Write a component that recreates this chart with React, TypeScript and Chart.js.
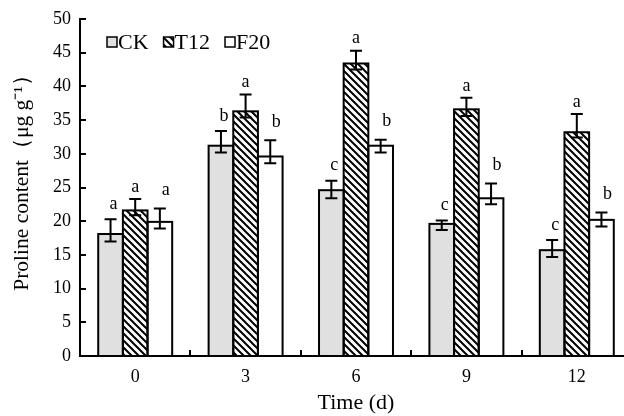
import React, { useEffect, useRef } from "react";
import { Chart, registerables } from "chart.js";

Chart.register(...registerables);

const categories = ["0", "3", "6", "9", "12"];
const seriesNames = ["CK", "T12", "F20"];
const ckValues = [18.1, 31.2, 24.6, 19.6, 15.7];
const t12Values = [21.6, 36.3, 43.4, 36.6, 33.2];
const f20Values = [19.9, 29.6, 31.2, 23.4, 20.2];
// error bar ends (upper cap, lower cap)
const ckErrHigh = [20.3, 33.4, 26.0, 20.1, 17.2];
const ckErrLow = [17.0, 30.2, 23.4, 18.7, 14.7];
const t12ErrHigh = [23.3, 38.8, 45.3, 38.3, 35.9];
const t12ErrLow = [20.9, 35.4, 42.5, 35.6, 32.4];
const f20ErrHigh = [21.9, 32.0, 32.1, 25.6, 21.3];
const f20ErrLow = [18.9, 28.6, 30.2, 22.5, 19.2];
const ckLetters = ["a", "b", "c", "c", "c"];
const t12Letters = ["a", "a", "a", "a", "a"];
const f20Letters = ["a", "b", "b", "b", "b"];
const yTicks = [0, 5, 10, 15, 20, 25, 30, 35, 40, 45, 50];
const xTitle = "Time (d)";
const yTitle = "Proline content（μg g⁻¹）";

const FONT = "'Liberation Serif', 'Times New Roman', serif";

function makeHatch(): CanvasPattern | string {
  const s = 7;
  const c = document.createElement("canvas");
  c.width = s;
  c.height = s;
  const g = c.getContext("2d");
  if (!g) return "#fff";
  g.fillStyle = "#fff";
  g.fillRect(0, 0, s, s);
  g.strokeStyle = "#000";
  g.lineWidth = 2;
  g.beginPath();
  g.moveTo(-1, -1);
  g.lineTo(s + 1, s + 1);
  g.moveTo(s - 1, -1);
  g.lineTo(s + 1, 1);
  g.moveTo(-1, s - 1);
  g.lineTo(1, s + 1);
  g.stroke();
  const p = g.createPattern(c, "repeat");
  return p || "#fff";
}

export default function App() {
  const ref = useRef<HTMLCanvasElement | null>(null);

  useEffect(() => {
    const canvas = ref.current;
    if (!canvas) return;
    const hatch = makeHatch();
    const fills = ["#e0e0e0", hatch, "#ffffff"];
    const errHigh = [ckErrHigh, t12ErrHigh, f20ErrHigh];
    const errLow = [ckErrLow, t12ErrLow, f20ErrLow];
    const letters = [ckLetters, t12Letters, f20Letters];
    const letterGap = [15, 12, 18];
    const letterDx = [3, 0, 6];

    const decor = {
      id: "decor",
      afterDatasetsDraw(chart: any) {
        const ctx = chart.ctx as CanvasRenderingContext2D;
        const y = chart.scales.y;
        const area = chart.chartArea;
        ctx.save();
        // bar outlines (shared 2px edges)
        ctx.strokeStyle = "#000";
        ctx.lineWidth = 2;
        chart.data.datasets.forEach((_ds: any, di: number) => {
          const meta = chart.getDatasetMeta(di);
          meta.data.forEach((bar: any) => {
            const p = bar.getProps(["x", "y", "base", "width"], true);
            const l = p.x - p.width / 2;
            ctx.strokeRect(l, p.y, p.width, p.base - p.y);
          });
        });
        // error bars and letters
        chart.data.datasets.forEach((_ds: any, di: number) => {
          const meta = chart.getDatasetMeta(di);
          meta.data.forEach((bar: any, i: number) => {
            const p = bar.getProps(["x"], true);
            const yh = y.getPixelForValue(errHigh[di][i]);
            const yl = y.getPixelForValue(errLow[di][i]);
            ctx.beginPath();
            ctx.moveTo(p.x, yh);
            ctx.lineTo(p.x, yl);
            ctx.moveTo(p.x - 6, yh);
            ctx.lineTo(p.x + 6, yh);
            ctx.moveTo(p.x - 6, yl);
            ctx.lineTo(p.x + 6, yl);
            ctx.stroke();
            ctx.fillStyle = "#000";
            ctx.font = `18px ${FONT}`;
            ctx.textAlign = "center";
            ctx.textBaseline = "middle";
            ctx.fillText(letters[di][i], p.x + letterDx[di], yh - letterGap[di]);
          });
        });
        // inward ticks
        ctx.lineWidth = 2;
        yTicks.forEach((v) => {
          const py = Math.round(y.getPixelForValue(v));
          ctx.beginPath();
          ctx.moveTo(area.left, py);
          ctx.lineTo(area.left + 6, py);
          ctx.stroke();
        });
        const n = categories.length;
        const cw = (area.right - area.left) / n;
        for (let i = 1; i <= n; i++) {
          const px = Math.round(area.left + cw * i);
          ctx.beginPath();
          ctx.moveTo(px, area.bottom);
          ctx.lineTo(px, area.bottom - 6);
          ctx.stroke();
        }
        // legend
        ctx.font = `22px ${FONT}`;
        ctx.textAlign = "left";
        ctx.textBaseline = "middle";
        let lx = area.left + 27;
        const ly = area.top + 23;
        seriesNames.forEach((name, k) => {
          ctx.fillStyle = fills[k] as any;
          ctx.fillRect(lx, ly - 5, 10, 10);
          ctx.lineWidth = 1.5;
          ctx.strokeRect(lx, ly - 5, 10, 10);
          ctx.fillStyle = "#000";
          ctx.fillText(name, lx + 11, ly + 1);
          lx += 11 + ctx.measureText(name).width + 15;
        });
        // axis titles
        ctx.fillStyle = "#000";
        ctx.textAlign = "center";
        ctx.textBaseline = "middle";
        ctx.font = `22px ${FONT}`;
        ctx.fillText(xTitle, (area.left + area.right) / 2, area.bottom + 47);
        ctx.save();
        ctx.translate(22, (area.top + area.bottom) / 2 - 10);
        ctx.rotate(-Math.PI / 2);
        ctx.font = `21.5px ${FONT}`;
        ctx.fillText(yTitle, 0, 0);
        ctx.restore();
        ctx.restore();
      },
    };

    const chart = new Chart(canvas, {
      type: "bar",
      data: {
        labels: categories,
        datasets: [
          { label: seriesNames[0], data: ckValues, backgroundColor: fills[0] as any, borderWidth: 0 },
          { label: seriesNames[1], data: t12Values, backgroundColor: fills[1] as any, borderWidth: 0 },
          { label: seriesNames[2], data: f20Values, backgroundColor: fills[2] as any, borderWidth: 0 },
        ],
      },
      options: {
        responsive: false,
        animation: false,
        devicePixelRatio: 1,
        layout: { padding: { top: 19, left: 0, right: 0, bottom: 0 } },
        datasets: { bar: { categoryPercentage: 0.67, barPercentage: 1 } },
        plugins: { legend: { display: false }, tooltip: { enabled: false } },
        scales: {
          x: {
            grid: { display: false },
            border: { display: true, color: "#000", width: 2 },
            ticks: { color: "#000", font: { family: FONT, size: 18 }, padding: 2 },
            afterFit: (s: any) => {
              s.height = 60;
            },
          },
          y: {
            min: 0,
            max: 50,
            grid: { display: false },
            border: { display: true, color: "#000", width: 2 },
            ticks: { color: "#000", font: { family: FONT, size: 18 }, stepSize: 5, padding: 1 },
            afterFit: (s: any) => {
              s.width = 80;
            },
          },
        },
      },
      plugins: [decor],
    });
    return () => chart.destroy();
  }, []);

  return (
    <div style={{ position: "fixed", left: 0, top: 0, width: 624, height: 416, overflow: "hidden", background: "#fff" }}>
      <canvas ref={ref} width={632} height={416} style={{ display: "block", width: 632, height: 416 }} />
    </div>
  );
}
